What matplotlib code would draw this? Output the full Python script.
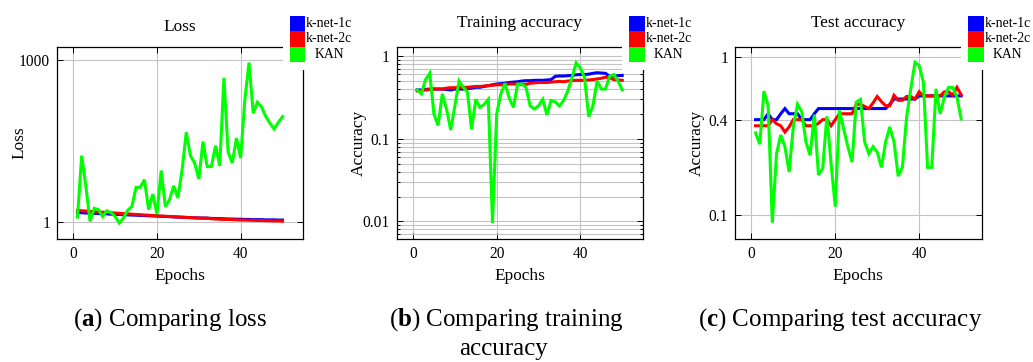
import matplotlib
matplotlib.use("Agg")
import matplotlib.pyplot as plt
from matplotlib.patches import Rectangle
from matplotlib.ticker import FixedLocator, FixedFormatter, LogLocator, NullFormatter, NullLocator
import numpy as np

plt.rcParams['font.family'] = ['Liberation Serif', 'DejaVu Serif']
plt.rcParams['mathtext.fontset'] = 'custom'
plt.rcParams['mathtext.rm'] = 'Liberation Serif'
plt.rcParams['mathtext.bf'] = 'Liberation Serif:bold'

epochs = np.arange(1, 51)
series_names = ['k-net-1c', 'k-net-2c', 'KAN']
series_colors = ['#0000ff', '#ff0000', '#00ff00']

# loss per epoch
loss_knet1c = [1.50, 1.49, 1.47, 1.46, 1.45, 1.44, 1.43, 1.42, 1.40, 1.39,
               1.38, 1.37, 1.36, 1.35, 1.34, 1.33, 1.32, 1.31, 1.30, 1.29,
               1.28, 1.27, 1.26, 1.25, 1.24, 1.23, 1.22, 1.21, 1.20, 1.19,
               1.19, 1.18, 1.17, 1.16, 1.16, 1.15, 1.14, 1.14, 1.13, 1.13,
               1.12, 1.12, 1.11, 1.11, 1.11, 1.10, 1.10, 1.10, 1.09, 1.09]
loss_knet2c = [1.64, 1.62, 1.60, 1.58, 1.56, 1.54, 1.52, 1.50, 1.49, 1.47,
               1.45, 1.43, 1.42, 1.40, 1.38, 1.37, 1.35, 1.34, 1.32, 1.31,
               1.29, 1.28, 1.27, 1.25, 1.24, 1.23, 1.22, 1.21, 1.20, 1.19,
               1.18, 1.19, 1.15, 1.14, 1.13, 1.12, 1.12, 1.11, 1.10, 1.09,
               1.09, 1.08, 1.08, 1.07, 1.07, 1.06, 1.06, 1.05, 1.05, 1.04]
loss_kan = [1.24, 17.0, 4.6, 1.03, 1.8, 1.7, 1.27, 1.62, 1.5, 1.27,
            0.96, 1.19, 1.65, 1.94, 4.4, 4.4, 6.1, 1.7, 3.3, 1.4,
            9.0, 1.94, 2.6, 4.7, 2.8, 9.3, 46, 17, 12.4, 6.3,
            31, 10.7, 10.7, 26, 11.0, 470, 20, 12.4, 36, 15.3,
            185, 900, 104, 166, 135, 90, 68, 53, 70, 90]

# training accuracy per epoch
train_knet1c = [0.39, 0.39, 0.395, 0.40, 0.40, 0.40, 0.40, 0.395, 0.39, 0.40,
                0.40, 0.40, 0.405, 0.41, 0.42, 0.42, 0.43, 0.44, 0.45, 0.46,
                0.465, 0.47, 0.48, 0.485, 0.49, 0.50, 0.505, 0.505, 0.51, 0.51,
                0.51, 0.515, 0.52, 0.57, 0.575, 0.575, 0.58, 0.585, 0.595, 0.60,
                0.60, 0.605, 0.62, 0.63, 0.625, 0.62, 0.57, 0.575, 0.58, 0.585]
train_knet2c = [0.38, 0.385, 0.39, 0.395, 0.40, 0.40, 0.40, 0.41, 0.415, 0.415,
                0.42, 0.42, 0.42, 0.425, 0.43, 0.43, 0.435, 0.44, 0.445, 0.45,
                0.45, 0.455, 0.46, 0.46, 0.46, 0.455, 0.455, 0.47, 0.475, 0.48,
                0.48, 0.48, 0.485, 0.49, 0.495, 0.49, 0.50, 0.505, 0.51, 0.51,
                0.51, 0.515, 0.52, 0.53, 0.54, 0.555, 0.55, 0.52, 0.515, 0.51]
train_kan = [0.39, 0.35, 0.52, 0.62, 0.20, 0.145, 0.35, 0.23, 0.128, 0.25,
             0.50, 0.42, 0.37, 0.13, 0.30, 0.24, 0.26, 0.30, 0.0096, 0.20,
             0.35, 0.47, 0.31, 0.24, 0.46, 0.46, 0.42, 0.25, 0.23, 0.25,
             0.30, 0.195, 0.29, 0.28, 0.25, 0.29, 0.38, 0.55, 0.83, 0.72,
             0.55, 0.185, 0.25, 0.50, 0.40, 0.40, 0.57, 0.60, 0.50, 0.39]

# test accuracy per epoch
test_knet1c = [0.40, 0.40, 0.40, 0.436, 0.40, 0.40, 0.436, 0.47, 0.436, 0.436,
               0.436, 0.40, 0.40, 0.40, 0.436, 0.47, 0.47, 0.47, 0.47, 0.47,
               0.47, 0.47, 0.47, 0.47, 0.47, 0.47, 0.47, 0.47, 0.47, 0.47,
               0.47, 0.47, 0.50, 0.54, 0.54, 0.54, 0.54, 0.54, 0.54, 0.565,
               0.565, 0.565, 0.565, 0.565, 0.565, 0.565, 0.565, 0.565, 0.565, 0.565]
test_knet2c = [0.366, 0.366, 0.366, 0.366, 0.40, 0.377, 0.366, 0.334, 0.36, 0.40,
               0.40, 0.40, 0.366, 0.366, 0.366, 0.38, 0.40, 0.40, 0.366, 0.40,
               0.436, 0.436, 0.436, 0.436, 0.50, 0.50, 0.485, 0.47, 0.51, 0.56,
               0.52, 0.49, 0.49, 0.57, 0.53, 0.53, 0.56, 0.56, 0.54, 0.60,
               0.565, 0.565, 0.565, 0.565, 0.565, 0.60, 0.60, 0.57, 0.64, 0.575]
test_kan = [0.33, 0.28, 0.605, 0.49, 0.0895, 0.244, 0.32, 0.27, 0.187, 0.36,
            0.50, 0.45, 0.29, 0.238, 0.43, 0.179, 0.197, 0.42, 0.211, 0.113,
            0.457, 0.35, 0.27, 0.216, 0.516, 0.537, 0.29, 0.244, 0.27, 0.25,
            0.20, 0.29, 0.36, 0.29, 0.176, 0.20, 0.415, 0.626, 0.92, 0.877,
            0.69, 0.20, 0.20, 0.626, 0.435, 0.555, 0.64, 0.64, 0.555, 0.405]

x_ticks = [0, 20, 40]
loss_ticks = [1, 1000]
loss_tick_labels = ['1', '1000']
train_ticks = [0.01, 0.1, 1]
train_tick_labels = ['0.01', '0.1', '1']
test_ticks = [0.1, 0.4, 1]
test_tick_labels = ['0.1', '0.4', '1']

W, H = 1033, 362
fig = plt.figure(figsize=(W / 100, H / 100), dpi=100)

grid_col = '#c4c4c4'


def px_rect(left, top, right, bottom):
    return [left / W, 1 - bottom / H, (right - left) / W, (bottom - top) / H]


def fig_xy(x, y):
    return x / W, 1 - y / H


def draw_key(ax, right_px):
    # pgfplots-style legend: stacked colour boxes with centred labels, white backing
    left = right_px - 13.5
    top, row_h, box_w = 15.7, 15.5, 15.7
    bx, by = fig_xy(left - 7, 70)
    ax.add_artist(Rectangle((bx, by), 72 / W, 61 / H, transform=fig.transFigure,
                            facecolor='white', edgecolor='none', zorder=5, clip_on=False))
    for i, (name, col) in enumerate(zip(series_names, series_colors)):
        x0, y0 = fig_xy(left, top + (i + 1) * row_h)
        ax.add_artist(Rectangle((x0, y0), box_w / W, row_h / H, transform=fig.transFigure,
                                facecolor=col, edgecolor='none', zorder=6, clip_on=False))
        tx, ty = fig_xy(left + 39.5, top + (i + 0.5) * row_h)
        ax.text(tx, ty, name, transform=fig.transFigure, ha='center', va='center',
                fontsize=9.9, zorder=7, clip_on=False)


def draw_panel(rect, data, title, title_pad, ylabel, yticks, ylabels, ylim, minor=False):
    ax = fig.add_axes(px_rect(*rect))
    for vals, name, col in zip(data, series_names, series_colors):
        ax.plot(epochs, vals, color=col, lw=2.2, label=name, solid_joinstyle='miter')
    ax.set_yscale('log')
    ax.set_xlim(-3.9, 54.9)
    ax.set_ylim(*ylim)
    ax.xaxis.set_major_locator(FixedLocator(x_ticks))
    ax.yaxis.set_major_locator(FixedLocator(yticks))
    ax.yaxis.set_major_formatter(FixedFormatter(ylabels))
    if minor:
        ax.yaxis.set_minor_locator(LogLocator(base=10, subs=range(2, 10), numticks=20))
        ax.grid(True, which='minor', axis='y', color=grid_col, lw=0.8)
    else:
        ax.yaxis.set_minor_locator(NullLocator())
    ax.yaxis.set_minor_formatter(NullFormatter())
    ax.grid(True, which='major', color=grid_col, lw=0.8)
    ax.set_axisbelow(True)
    ax.tick_params(which='both', direction='in', top=True, right=True,
                   labelsize=11.2, pad=5, width=0.7)
    ax.tick_params(which='major', length=4)
    ax.tick_params(which='minor', length=2.5)
    for sp in ax.spines.values():
        sp.set_linewidth(0.9)

    ax.set_title(title, fontsize=12.4, pad=title_pad)
    ax.set_xlabel('Epochs', fontsize=12.4)
    ax.set_ylabel(ylabel, fontsize=12.4)
    width_px = rect[2] - rect[0]
    height_px = rect[3] - rect[1]
    ax.yaxis.label.set_va('center')
    ax.yaxis.set_label_coords(-38 / width_px, 0.5)
    ax.xaxis.label.set_va('center')
    ax.xaxis.set_label_coords(0.5, -37 / height_px)

    draw_key(ax, rect[2])
    return ax


draw_panel((57, 47, 303, 239), [loss_knet1c, loss_knet2c, loss_kan],
           'Loss', 11.5, 'Loss', loss_ticks, loss_tick_labels, (0.486, 1750))
draw_panel((396.7, 47, 642.7, 239), [train_knet1c, train_knet2c, train_kan],
           'Training accuracy', 14.2, 'Accuracy', train_ticks, train_tick_labels,
           (0.00614, 1.29), minor=True)
draw_panel((735, 47, 981.7, 239), [test_knet1c, test_knet2c, test_kan],
           'Test accuracy', 14.2, 'Accuracy', test_ticks, test_tick_labels, (0.0706, 1.15))

# sub-figure captions
cap_size = 18
fig.text(170.5 / W, 1 - 326 / H, r'($\mathbf{a}$) Comparing loss', ha='center',
         va='baseline', fontsize=cap_size)
fig.text(506 / W, 1 - 326 / H, r'($\mathbf{b}$) Comparing training', ha='center',
         va='baseline', fontsize=cap_size)
fig.text(503 / W, 1 - 355 / H, 'accuracy', ha='center', va='baseline', fontsize=cap_size)
fig.text(840 / W, 1 - 326 / H, r'($\mathbf{c}$) Comparing test accuracy', ha='center',
         va='baseline', fontsize=cap_size)

fig.savefig('out.png', dpi=100)
